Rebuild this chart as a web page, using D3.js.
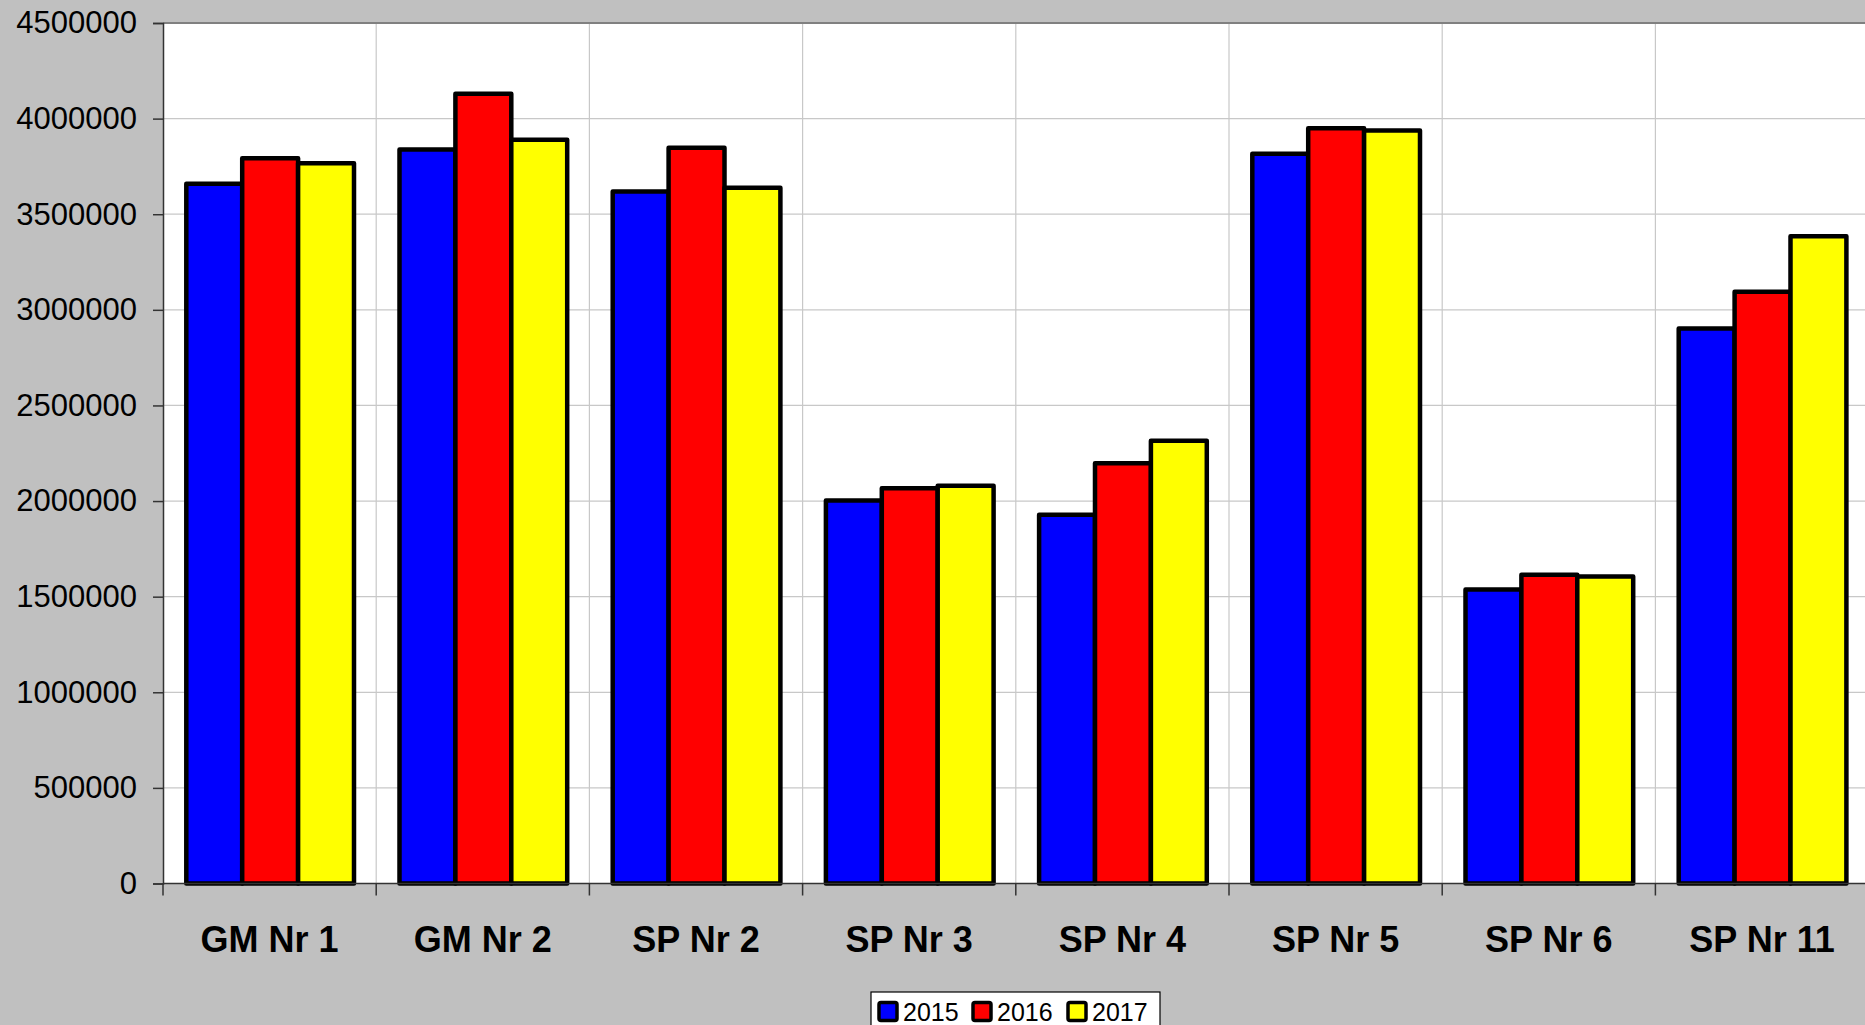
<!DOCTYPE html>
<html>
<head>
<meta charset="utf-8">
<script src="https://cdn.jsdelivr.net/npm/d3@7"></script>
<style>
  html, body { margin: 0; padding: 0; background: #c0c0c0; overflow: hidden; }
  svg { display: block; }
</style>
</head>
<body>
<script>
const categories = ["GM Nr 1", "GM Nr 2", "SP Nr 2", "SP Nr 3", "SP Nr 4", "SP Nr 5", "SP Nr 6", "SP Nr 11"];
const years = ["2015", "2016", "2017"];
const values2015 = [3660000, 3838000, 3619000, 2003000, 1928000, 3816000, 1538000, 2903000];
const values2016 = [3793000, 4130000, 3847000, 2067000, 2198000, 3950000, 1614000, 3095000];
const values2017 = [3767000, 3889000, 3638000, 2080000, 2315000, 3938000, 1605000, 3385000];
const yTicks = [0, 500000, 1000000, 1500000, 2000000, 2500000, 3000000, 3500000, 4000000, 4500000];
const colors = ["#0000ff", "#ff0000", "#ffff00"];

const W = 1865, H = 1025;
const mLeft = 163, mTop = 23, mBottom = 883.5, mRight = 1868.6;

const svg = d3.select("body").append("svg").attr("width", W).attr("height", H);
svg.append("rect").attr("width", W).attr("height", H).attr("fill", "#c0c0c0");

const x0 = d3.scaleBand().domain(categories).range([mLeft, mRight]).padding(0);
const x1 = d3.scaleBand().domain(years).range([23.3, 191]).padding(0);
const y = d3.scaleLinear().domain([0, 4500000]).range([mBottom, mTop]);

// plot area
svg.append("rect").attr("x", mLeft).attr("y", mTop).attr("width", mRight - mLeft).attr("height", mBottom - mTop).attr("fill", "#ffffff");

// grid
const g = svg.append("g");
g.selectAll("line.h").data(yTicks.slice(1)).join("line")
  .attr("x1", mLeft).attr("x2", mRight)
  .attr("y1", d => y(d)).attr("y2", d => y(d))
  .attr("stroke", "#c8c8c8").attr("stroke-width", 1.2);
g.selectAll("line.v").data(categories.slice(1)).join("line")
  .attr("x1", d => x0(d)).attr("x2", d => x0(d))
  .attr("y1", mTop).attr("y2", mBottom)
  .attr("stroke", "#c8c8c8").attr("stroke-width", 1.2);

// top border
svg.append("line").attr("x1", mLeft).attr("x2", W).attr("y1", mTop).attr("y2", mTop)
  .attr("stroke", "#808080").attr("stroke-width", 2);

// bars
const series = [values2015, values2016, values2017];
const bars = svg.append("g");
categories.forEach((c, i) => {
  years.forEach((yr, j) => {
    const v = series[j][i];
    bars.append("rect")
      .attr("x", x0(c) + x1(yr))
      .attr("y", y(v))
      .attr("width", x1.bandwidth())
      .attr("height", y(0) - y(v))
      .attr("fill", colors[j])
      .attr("stroke", "#000")
      .attr("stroke-width", 4.5)
      .attr("stroke-linejoin", "round");
  });
});

// y axis
const yAxis = d3.axisLeft(y).tickValues(yTicks).tickFormat(d3.format("d")).tickSize(10).tickPadding(16);
const ya = svg.append("g").attr("transform", `translate(${mLeft},0)`).call(yAxis);
ya.select(".domain").attr("stroke", "#333").attr("stroke-width", 1.5);
ya.selectAll(".tick line").attr("stroke", "#333").attr("stroke-width", 1.5);
ya.selectAll("text").attr("font-family", "'Liberation Sans', Arial, sans-serif")
  .attr("font-size", 31).attr("fill", "#000");

// x axis
svg.append("line").attr("x1", mLeft).attr("x2", mRight).attr("y1", mBottom).attr("y2", mBottom)
  .attr("stroke", "#333").attr("stroke-width", 1.5);
svg.append("g").selectAll("line").data(categories).join("line")
  .attr("x1", d => x0(d)).attr("x2", d => x0(d))
  .attr("y1", mBottom).attr("y2", mBottom + 12)
  .attr("stroke", "#333").attr("stroke-width", 1.5);
svg.append("g").selectAll("text").data(categories).join("text")
  .attr("x", d => x0(d) + x0.bandwidth() / 2)
  .attr("y", 952)
  .attr("text-anchor", "middle")
  .attr("font-family", "'Liberation Sans', Arial, sans-serif")
  .attr("font-weight", "bold")
  .attr("font-size", 36)
  .text(d => d);

// legend
const lg = svg.append("g");
lg.append("rect").attr("x", 871).attr("y", 992).attr("width", 289).attr("height", 50)
  .attr("fill", "#fff").attr("stroke", "#000").attr("stroke-width", 1.2);
const legX = [879, 973, 1068];
years.forEach((yr, j) => {
  lg.append("rect").attr("x", legX[j]).attr("y", 1002.5).attr("width", 18).attr("height", 18)
    .attr("rx", 2).attr("fill", colors[j]).attr("stroke", "#000").attr("stroke-width", 3.5);
  lg.append("text").attr("x", legX[j] + 24).attr("y", 1020.5)
    .attr("font-family", "'Liberation Sans', Arial, sans-serif")
    .attr("font-size", 25).text(yr);
});
</script>
</body>
</html>
